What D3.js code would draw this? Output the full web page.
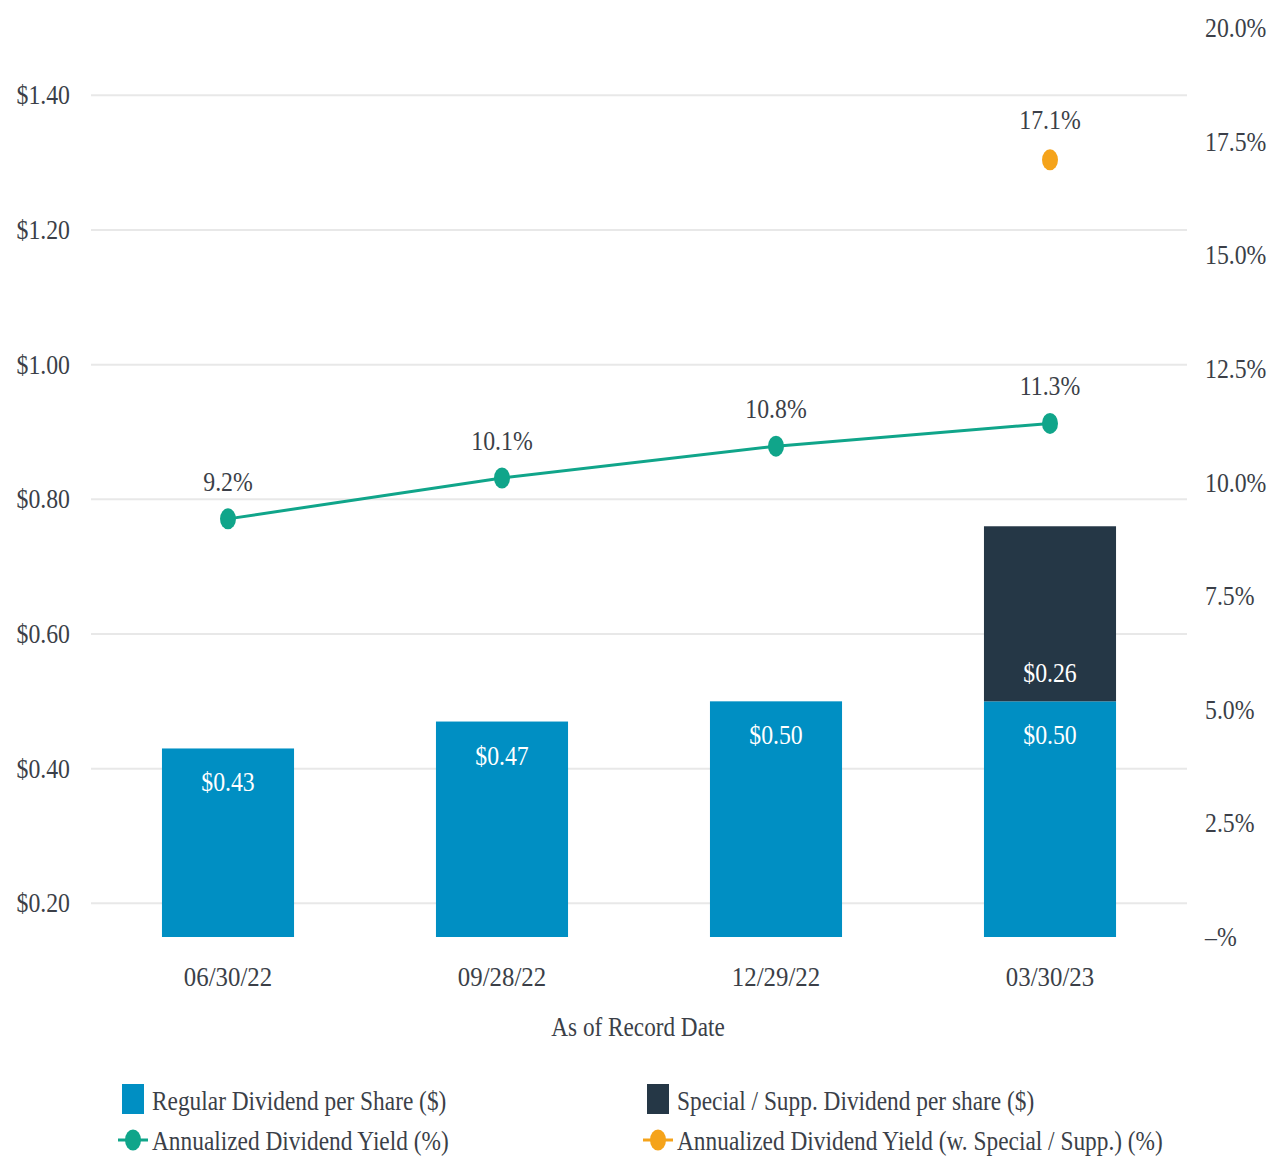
<!DOCTYPE html>
<html><head><meta charset="utf-8">
<script src="https://cdn.jsdelivr.net/npm/d3@7"></script>
<style>
html,body{margin:0;padding:0;background:#fff;}
svg{display:block;}
</style></head>
<body>
<svg id="chart" width="1272" height="1157"></svg>
<script>
const categories = ["06/30/22","09/28/22","12/29/22","03/30/23"];
const regularDividend = [0.43,0.47,0.50,0.50];
const specialDividend = [0,0,0,0.26];
const annualYield = [9.2,10.1,10.8,11.3];
const yieldWithSpecial = [null,null,null,17.1];
const leftTicks = [0.20,0.40,0.60,0.80,1.00,1.20,1.40];
const leftTickLabels = ["$0.20","$0.40","$0.60","$0.80","$1.00","$1.20","$1.40"];
const rightTicks = [0,2.5,5,7.5,10,12.5,15,17.5,20];
const rightTickLabels = ["\u2013%","2.5%","5.0%","7.5%","10.0%","12.5%","15.0%","17.5%","20.0%"];
const legendItems = ["Regular Dividend per Share ($)","Special / Supp. Dividend per share ($)","Annualized Dividend Yield (%)","Annualized Dividend Yield (w. Special / Supp.) (%)"];
const axisTitle = "As of Record Date";

const C = {blue:"#008fc3", dark:"#253746", green:"#10a58a", orange:"#f5a31a", text:"#3b3f48", grid:"#e8e8e8"};
const FONT = "'Liberation Serif', 'Times New Roman', serif";
const FS = 27, SX = 0.88;

const svg = d3.select("#chart");
const x = d3.scaleBand().domain(categories).range([91,1187]).paddingInner(0.518).paddingOuter(0.259);
const yL = d3.scaleLinear().domain([0.15,1.50]).range([937,28]);
const yR = d3.scaleLinear().domain([0,20]).range([937,28]);

function txt(g, tx, ty, s, anchor, fill, sx){
  return g.append("text")
    .attr("transform", `translate(${tx},${ty}) scale(${sx||SX},1)`)
    .attr("text-anchor", anchor||"middle")
    .attr("font-family", FONT)
    .attr("font-size", FS)
    .attr("fill", fill||C.text)
    .text(s);
}

// gridlines
svg.append("g").selectAll("line").data(leftTicks).join("line")
  .attr("x1",91).attr("x2",1187)
  .attr("y1",d=>yL(d)).attr("y2",d=>yL(d))
  .attr("stroke",C.grid).attr("stroke-width",2);

// left axis labels
const gl = svg.append("g");
leftTicks.forEach((t,i)=> txt(gl, 70, yL(t)+9, leftTickLabels[i], "end"));
// right axis labels
const gr = svg.append("g");
rightTicks.forEach((t,i)=> txt(gr, 1205, yR(t)+9, rightTickLabels[i], "start"));

// bars
const base = yL.domain()[0];
const gb = svg.append("g");
categories.forEach((c,i)=>{
  gb.append("rect").attr("x",x(c)).attr("width",x.bandwidth())
    .attr("y",yL(regularDividend[i])).attr("height",yL(base)-yL(regularDividend[i]))
    .attr("fill",C.blue);
  if(specialDividend[i]>0){
    const top = regularDividend[i]+specialDividend[i];
    gb.append("rect").attr("x",x(c)).attr("width",x.bandwidth())
      .attr("y",yL(top)).attr("height",yL(regularDividend[i])-yL(top))
      .attr("fill",C.dark);
  }
});
// bar labels
categories.forEach((c,i)=>{
  const cx = x(c)+x.bandwidth()/2;
  txt(gb, cx, yL(regularDividend[i])+43, "$"+regularDividend[i].toFixed(2), "middle", "#ffffff");
  if(specialDividend[i]>0){
    txt(gb, cx, yL(regularDividend[i])-19, "$"+specialDividend[i].toFixed(2), "middle", "#ffffff");
  }
});

// yield line
const cxOf = c => x(c)+x.bandwidth()/2;
const line = d3.line().x((d,i)=>cxOf(categories[i])).y(d=>yR(d));
svg.append("path").datum(annualYield).attr("d",line)
  .attr("fill","none").attr("stroke",C.green).attr("stroke-width",3);
const gp = svg.append("g");
annualYield.forEach((v,i)=>{
  gp.append("ellipse").attr("cx",cxOf(categories[i])).attr("cy",yR(v)).attr("rx",8).attr("ry",10.5).attr("fill",C.green);
  txt(gp, cxOf(categories[i]), yR(v)-28, v.toFixed(1)+"%", "middle");
});
yieldWithSpecial.forEach((v,i)=>{
  if(v==null) return;
  gp.append("ellipse").attr("cx",cxOf(categories[i])).attr("cy",yR(v)).attr("rx",8).attr("ry",10.5).attr("fill",C.orange);
  txt(gp, cxOf(categories[i]), yR(v)-31, v.toFixed(1)+"%", "middle");
});

// x axis labels
const gx = svg.append("g");
categories.forEach(c=> txt(gx, cxOf(c), 986, c, "middle", null, 0.92));
txt(gx, 638, 1036, axisTitle, "middle", null, 0.86);

// legend
const lg = svg.append("g");
const legendPos = [[122,1100],[647,1100],[122,1140],[647,1140]];
const legendType = ["rect","rect","line","line"];
const legendColor = [C.blue,C.dark,C.green,C.orange];
legendItems.forEach((s,i)=>{
  const [lx,ly] = legendPos[i];
  if(legendType[i]==="rect"){
    lg.append("rect").attr("x",lx).attr("y",ly-16).attr("width",22).attr("height",30).attr("fill",legendColor[i]);
  } else {
    lg.append("line").attr("x1",lx-4).attr("x2",lx+26).attr("y1",ly).attr("y2",ly).attr("stroke",legendColor[i]).attr("stroke-width",3);
    lg.append("ellipse").attr("cx",lx+11).attr("cy",ly).attr("rx",8).attr("ry",10.5).attr("fill",legendColor[i]);
  }
  txt(lg, lx+30, ly+10, s, "start", null, 0.865);
});
</script>
</body></html>
